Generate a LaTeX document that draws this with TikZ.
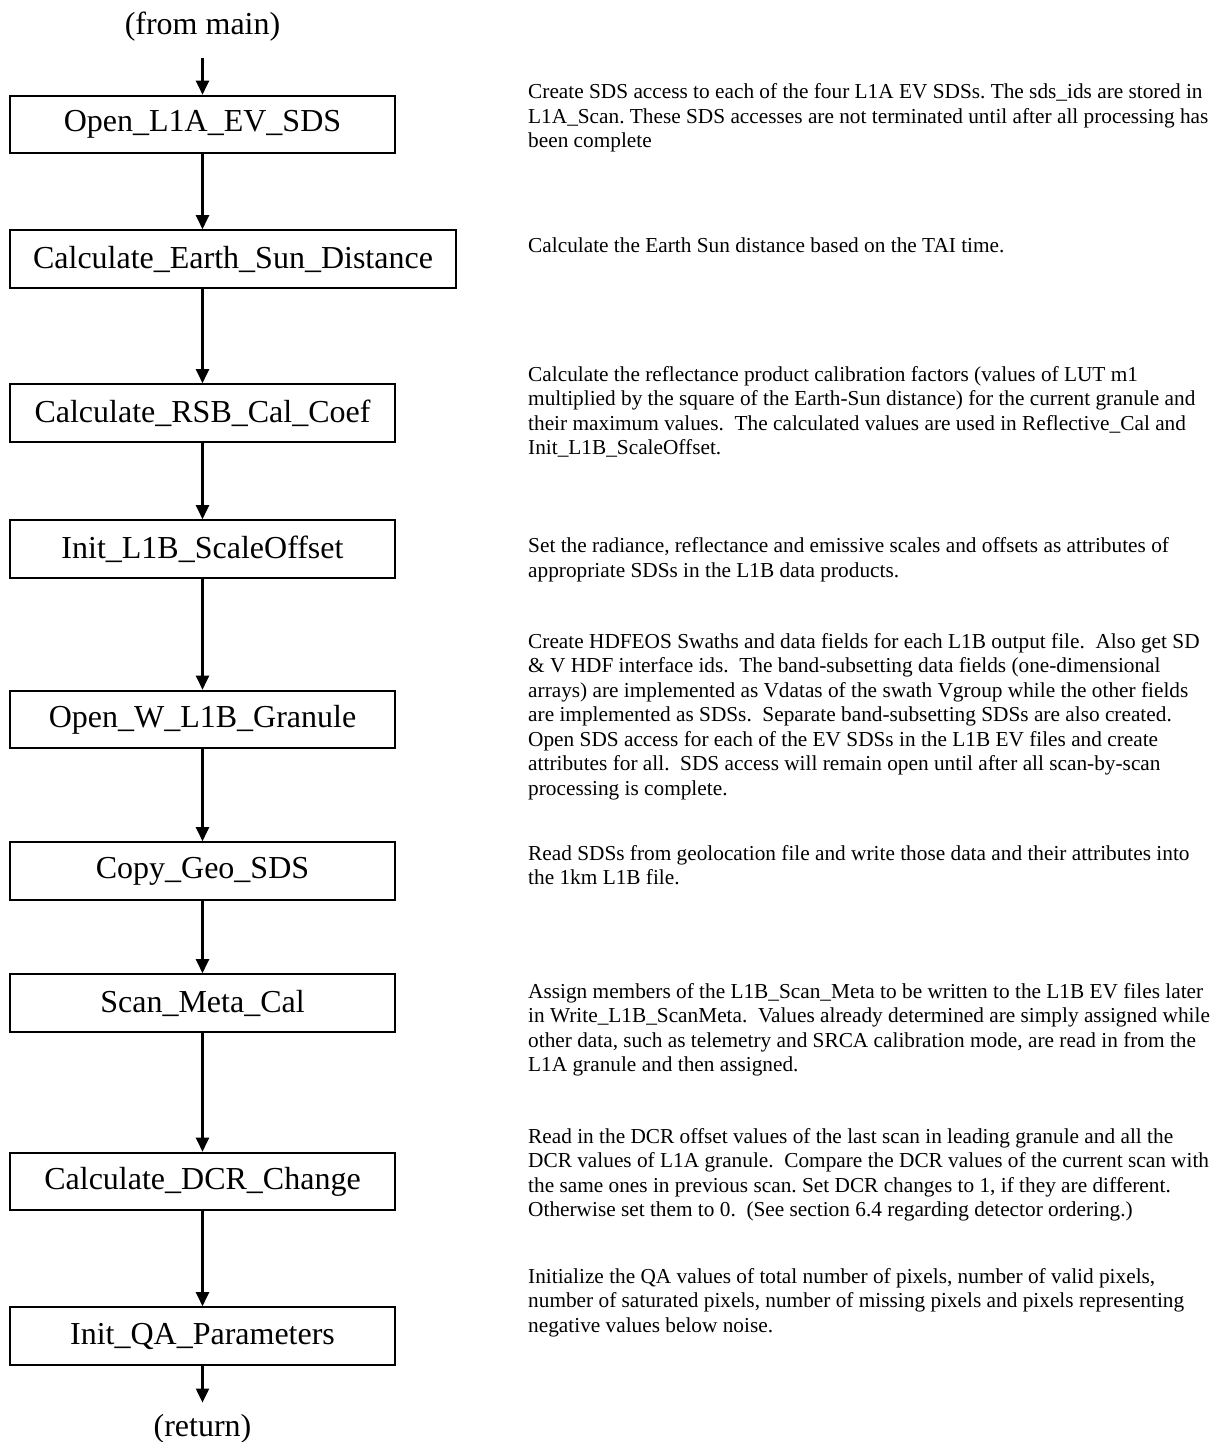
\documentclass[tikz,border=0pt]{standalone}
\usepackage{fontspec}
\setmainfont{Liberation Serif}
\usetikzlibrary{arrows.meta}
\frenchspacing
\begin{document}
\begin{tikzpicture}[x=1pt,y=-1pt,
  procbox/.style={draw, line width=2.1pt, minimum width=385pt, minimum height=57.5pt,
    inner sep=0pt, font=\fontsize{32}{38}\selectfont},
  flow/.style={line width=2.1pt, -{Triangle[length=14pt,width=13pt]}},
  term/.style={inner sep=0pt, anchor=base, font=\fontsize{32}{38}\selectfont},
  note/.style={anchor=west, inner sep=0pt, align=left, font=\fontsize{21.3}{24.5}\selectfont}]
\useasboundingbox (0,0) rectangle (1227,1442);

% entry and exit labels
\node[term] (from) at (202.5,35) {(from main)};
\node[term] (ret) at (202.5,1436) {(return)};

% processing steps
\node[procbox] (b1) at (202.5,124.5) {Open\_L1A\_EV\_SDS};
\node[procbox, minimum width=446pt] (b2) at (233,259) {Calculate\_Earth\_Sun\_Distance};
\node[procbox] (b3) at (202.5,413) {Calculate\_RSB\_Cal\_Coef};
\node[procbox] (b4) at (202.5,549) {Init\_L1B\_ScaleOffset};
\node[procbox] (b5) at (202.5,719.5) {Open\_W\_L1B\_Granule};
\node[procbox] (b6) at (202.5,871) {Copy\_Geo\_SDS};
\node[procbox] (b7) at (202.5,1003) {Scan\_Meta\_Cal};
\node[procbox] (b8) at (202.5,1181.5) {Calculate\_DCR\_Change};
\node[procbox] (b9) at (202.5,1336) {Init\_QA\_Parameters};

% connectors
\draw[flow, shorten <=16pt] (from.south) -- (b1.north);
\draw[flow] (b1.south) -- (b1.south |- b2.north);
\draw[flow] (b1.south |- b2.south) -- (b3.north);
\draw[flow] (b3.south) -- (b4.north);
\draw[flow] (b4.south) -- (b5.north);
\draw[flow] (b5.south) -- (b6.north);
\draw[flow] (b6.south) -- (b7.north);
\draw[flow] (b7.south) -- (b8.north);
\draw[flow] (b8.south) -- (b9.north);
\draw[flow, shorten >=11pt] (b9.south) -- (ret.north);

% descriptions
\node[note] (n1) at (528,118) {Create SDS access to each of the four L1A EV SDSs. The sds\_ids are stored in\\
L1A\_Scan. These SDS accesses are not terminated until after all processing has\\
been complete};
\node[note] (n2) at (528,245) {Calculate the Earth Sun distance based on the TAI time.};
\node[note] (n3) at (528,412) {Calculate the reflectance product calibration factors (values of LUT m1\\
multiplied by the square of the Earth-Sun distance) for the current granule and\\
their maximum values.~ The calculated values are used in Reflective\_Cal and\\
Init\_L1B\_ScaleOffset.};
\node[note] (n4) at (528,560) {Set the radiance, reflectance and emissive scales and offsets as attributes of\\
appropriate SDSs in the L1B data products.};
\node[note] (n5) at (528,716.5) {Create HDFEOS Swaths and data fields for each L1B output file.~ Also get SD\\
\& V HDF interface ids.~ The band-subsetting data fields (one-dimensional\\
arrays) are implemented as Vdatas of the swath Vgroup while the other fields\\
are implemented as SDSs.~ Separate band-subsetting SDSs are also created.\\
Open SDS access for each of the EV SDSs in the L1B EV files and create\\
attributes for all.~ SDS access will remain open until after all scan-by-scan\\
processing is complete.};
\node[note] (n6) at (528,865) {Read SDSs from geolocation file and write those data and their attributes into\\
the 1km L1B file.};
\node[note] (n7) at (528,1030) {Assign members of the L1B\_Scan\_Meta to be written to the L1B EV files later\\
in Write\_L1B\_ScanMeta.~ Values already determined are simply assigned while\\
other data, such as telemetry and SRCA calibration mode, are read in from the\\
L1A granule and then assigned.};
\node[note] (n8) at (528,1175) {Read in the DCR offset values of the last scan in leading granule and all the\\
DCR values of L1A granule.~ Compare the DCR values of the current scan with\\
the same ones in previous scan. Set DCR changes to 1, if they are different.\\
Otherwise set them to 0.~ (See section 6.4 regarding detector ordering.)};
\node[note] (n9) at (528,1302.5) {Initialize the QA values of total number of pixels, number of valid pixels,\\
number of saturated pixels, number of missing pixels and pixels representing\\
negative values below noise.};
\end{tikzpicture}
\end{document}
